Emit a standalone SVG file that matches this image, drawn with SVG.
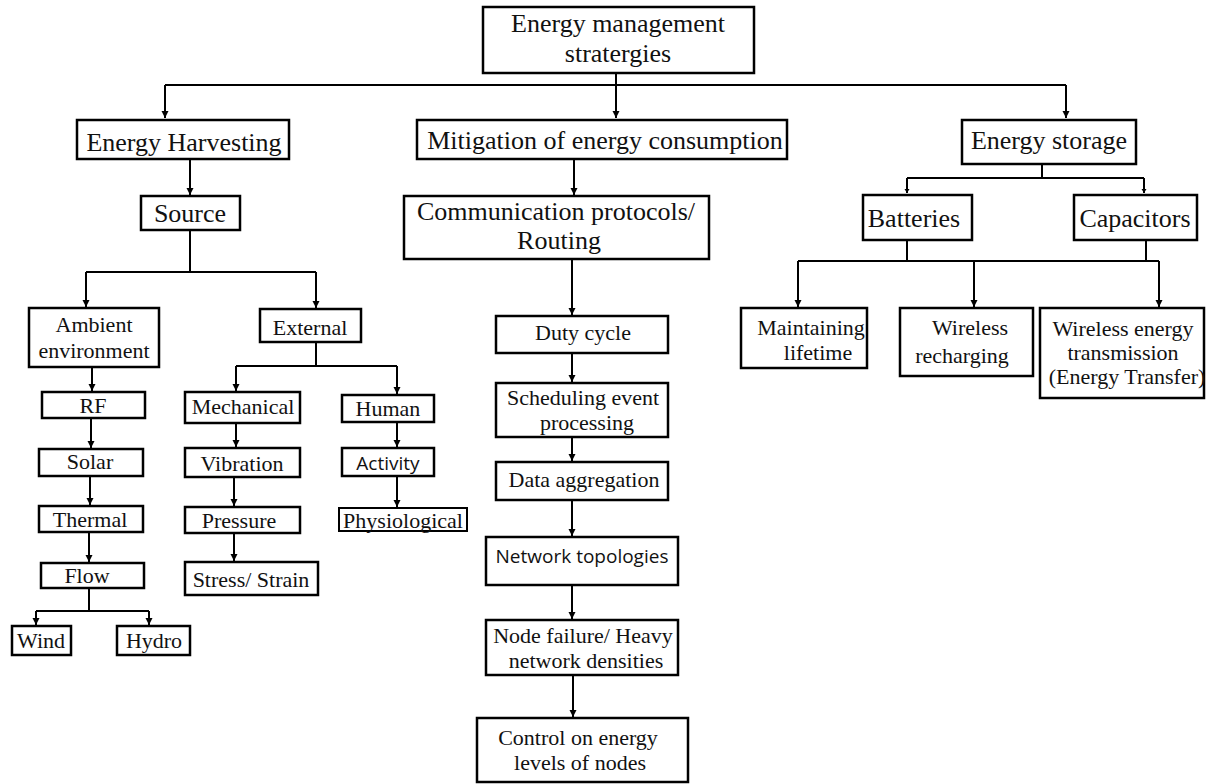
<svg xmlns="http://www.w3.org/2000/svg" width="1206" height="784" viewBox="0 0 1206 784">
<style>
.b{fill:#fff;stroke:#000;stroke-width:2.5}
.t{font-family:"Liberation Serif","Times New Roman",serif;font-size:22px;fill:#111;text-anchor:middle}
.L{font-size:26px}
.s{font-family:"Open Sans","Noto Sans",sans-serif;font-size:19px}
.c{fill:none;stroke:#000;stroke-width:2}
</style>
<defs>
<marker id="ah" markerUnits="userSpaceOnUse" markerWidth="10" markerHeight="10" refX="7" refY="3.5" orient="auto"><path d="M0,0 L7,3.5 L0,7 z" fill="#000"/></marker>
<marker id="as" markerUnits="userSpaceOnUse" markerWidth="8" markerHeight="8" refX="4" refY="2.5" orient="auto"><path d="M0,0 L4,2.5 L0,5 z" fill="#000"/></marker>
</defs>
<g id="connectors">
<path class="c" d="M165,85 H1066"/>
<path class="c" d="M165,85 V118" marker-end="url(#ah)"/>
<path class="c" d="M616,73 V118" marker-end="url(#ah)"/>
<path class="c" d="M1066,85 V118" marker-end="url(#ah)"/>
<path class="c" d="M190,159 V195" marker-end="url(#ah)"/>
<path class="c" d="M190,230 V272 M86,272 H316"/>
<path class="c" d="M86,272 V307" marker-end="url(#ah)"/>
<path class="c" d="M316,272 V308" marker-end="url(#ah)"/>
<path class="c" d="M92,367 V391" marker-end="url(#ah)"/>
<path class="c" d="M91,418 V448" marker-end="url(#ah)"/>
<path class="c" d="M90,476 V505" marker-end="url(#ah)"/>
<path class="c" d="M89,532 V562" marker-end="url(#ah)"/>
<path class="c" d="M89,588 V611 M36,611 H149"/>
<path class="c" d="M36,611 V625" marker-end="url(#ah)"/>
<path class="c" d="M149,611 V625" marker-end="url(#ah)"/>
<path class="c" d="M316,342 V366 M236,366 H397"/>
<path class="c" d="M236,366 V391" marker-end="url(#ah)"/>
<path class="c" d="M397,366 V394" marker-end="url(#ah)"/>
<path class="c" d="M236,423 V447" marker-end="url(#ah)"/>
<path class="c" d="M234,477 V506" marker-end="url(#ah)"/>
<path class="c" d="M234,533 V561" marker-end="url(#ah)"/>
<path class="c" d="M397,422 V447" marker-end="url(#ah)"/>
<path class="c" d="M397,476 V507" marker-end="url(#ah)"/>
<path class="c" d="M574,159 V195" marker-end="url(#ah)"/>
<path class="c" d="M572,259 V315" marker-end="url(#ah)"/>
<path class="c" d="M572,353 V382" marker-end="url(#ah)"/>
<path class="c" d="M572,437 V461" marker-end="url(#ah)"/>
<path class="c" d="M572,500 V536" marker-end="url(#ah)"/>
<path class="c" d="M572,585 V619" marker-end="url(#ah)"/>
<path class="c" d="M573,675 V717" marker-end="url(#ah)"/>
<path class="c" d="M1042,164 V178 M907,178 H1144"/>
<path class="c" d="M907,178 V193" marker-end="url(#as)"/>
<path class="c" d="M1144,178 V193" marker-end="url(#as)"/>
<path class="c" d="M907,240 V261 M1146,240 V261 M798,261 H1159"/>
<path class="c" d="M798,261 V307" marker-end="url(#ah)"/>
<path class="c" d="M974,261 V307" marker-end="url(#ah)"/>
<path class="c" d="M1159,261 V307" marker-end="url(#ah)"/>
</g>
<g id="n-root"><rect class="b" x="483" y="7" width="271" height="66"/><text class="t L" x="618" y="32">Energy management</text><text class="t L" x="618" y="62">stratergies</text></g>
<g id="n-harvesting"><rect class="b" x="77" y="120" width="212" height="39"/><text class="t L" x="184" y="151">Energy Harvesting</text></g>
<g id="n-source"><rect class="b" x="141" y="196" width="99" height="34"/><text class="t L" x="190" y="222">Source</text></g>
<g id="n-mitigation"><rect class="b" x="417" y="120" width="370" height="39"/><text class="t L" x="605" y="149">Mitigation of energy consumption</text></g>
<g id="n-comm"><rect class="b" x="404" y="196" width="305" height="63"/><text class="t L" x="556" y="220">Communication protocols/</text><text class="t L" x="559" y="249">Routing</text></g>
<g id="n-storage"><rect class="b" x="962" y="120" width="174" height="44"/><text class="t L" x="1049" y="149">Energy storage</text></g>
<g id="n-batteries"><rect class="b" x="863" y="195" width="109" height="45"/><text class="t L" x="914" y="227">Batteries</text></g>
<g id="n-capacitors"><rect class="b" x="1074" y="195" width="123" height="45"/><text class="t L" x="1135" y="227">Capacitors</text></g>
<g id="n-ambient"><rect class="b" x="29" y="308" width="130" height="59"/><text class="t" x="94" y="332">Ambient</text><text class="t" x="94" y="358">environment</text></g>
<g id="n-external"><rect class="b" x="260" y="309" width="101" height="33"/><text class="t" x="310" y="335">External</text></g>
<g id="n-rf"><rect class="b" x="42" y="392" width="103" height="26"/><text class="t" x="93" y="413">RF</text></g>
<g id="n-solar"><rect class="b" x="39" y="449" width="104" height="27"/><text class="t" x="90" y="469">Solar</text></g>
<g id="n-thermal"><rect class="b" x="39" y="506" width="104" height="26"/><text class="t" x="90" y="527">Thermal</text></g>
<g id="n-flow"><rect class="b" x="41" y="563" width="103" height="25"/><text class="t" x="87" y="583">Flow</text></g>
<g id="n-wind"><rect class="b" x="12" y="626" width="59" height="29"/><text class="t" x="41" y="648">Wind</text></g>
<g id="n-hydro"><rect class="b" x="117" y="626" width="73" height="29"/><text class="t" x="154" y="648">Hydro</text></g>
<g id="n-mechanical"><rect class="b" x="185" y="392" width="115" height="31"/><text class="t" x="243" y="414">Mechanical</text></g>
<g id="n-vibration"><rect class="b" x="185" y="448" width="115" height="29"/><text class="t" x="242" y="471">Vibration</text></g>
<g id="n-pressure"><rect class="b" x="185" y="507" width="115" height="26"/><text class="t" x="239" y="528">Pressure</text></g>
<g id="n-stress"><rect class="b" x="185" y="562" width="133" height="33"/><text class="t" x="251" y="587">Stress/ Strain</text></g>
<g id="n-human"><rect class="b" x="342" y="395" width="92" height="27"/><text class="t" x="388" y="416">Human</text></g>
<g id="n-activity"><rect class="b" x="342" y="448" width="92" height="28"/><text class="t s" x="388" y="470">Activity</text></g>
<g id="n-physiological"><rect class="b" x="339" y="508" width="128" height="23" style="stroke-width:2"/><text class="t" x="403" y="528">Physiological</text></g>
<g id="n-duty"><rect class="b" x="496" y="316" width="172" height="37"/><text class="t" x="583" y="340">Duty cycle</text></g>
<g id="n-scheduling"><rect class="b" x="496" y="383" width="172" height="54"/><text class="t" x="583" y="405">Scheduling event</text><text class="t" x="587" y="430">processing</text></g>
<g id="n-data"><rect class="b" x="496" y="462" width="172" height="38"/><text class="t" x="584" y="487">Data aggregation</text></g>
<g id="n-network"><rect class="b" x="486" y="537" width="192" height="48"/><text class="t s" x="582" y="563">Network topologies</text></g>
<g id="n-nodefailure"><rect class="b" x="486" y="620" width="192" height="55"/><text class="t" x="583" y="643">Node failure/ Heavy</text><text class="t" x="586" y="668">network densities</text></g>
<g id="n-control"><rect class="b" x="477" y="718" width="211" height="64"/><text class="t" x="578" y="745">Control on energy</text><text class="t" x="580" y="770">levels of nodes</text></g>
<g id="n-maintaining"><rect class="b" x="741" y="308" width="126" height="60"/><text class="t" x="811" y="335">Maintaining</text><text class="t" x="818" y="360">lifetime</text></g>
<g id="n-recharging"><rect class="b" x="900" y="308" width="133" height="68"/><text class="t" x="970" y="335">Wireless</text><text class="t" x="962" y="363">recharging</text></g>
<g id="n-transfer"><rect class="b" x="1040" y="308" width="164" height="90"/><text class="t" x="1123" y="336">Wireless energy</text><text class="t" x="1123" y="360">transmission</text><text class="t" x="1127" y="384">(Energy Transfer)</text></g>
</svg>
